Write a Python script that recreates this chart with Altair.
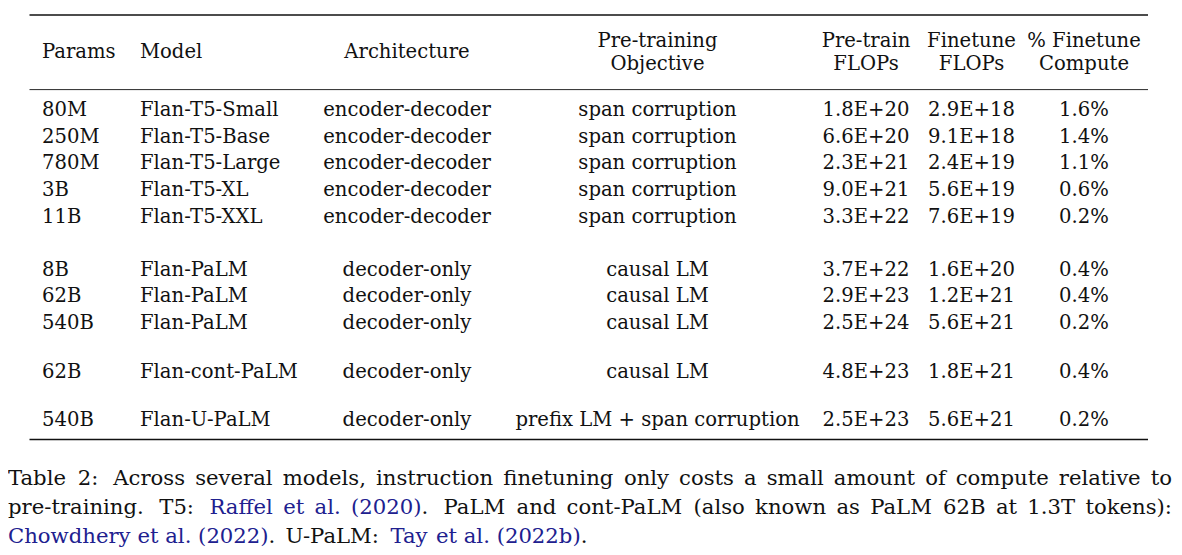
import altair as alt
import pandas as pd

# ---------------- data (table contents) ----------------
params = ["80M", "250M", "780M", "3B", "11B", "8B", "62B", "540B", "62B", "540B"]
models = ["Flan-T5-Small", "Flan-T5-Base", "Flan-T5-Large", "Flan-T5-XL", "Flan-T5-XXL",
          "Flan-PaLM", "Flan-PaLM", "Flan-PaLM", "Flan-cont-PaLM", "Flan-U-PaLM"]
architectures = ["encoder-decoder"] * 5 + ["decoder-only"] * 5
objectives = ["span corruption"] * 5 + ["causal LM"] * 4 + ["prefix LM + span corruption"]
pretrain_flops = ["1.8E+20", "6.6E+20", "2.3E+21", "9.0E+21", "3.3E+22",
                  "3.7E+22", "2.9E+23", "2.5E+24", "4.8E+23", "2.5E+23"]
finetune_flops = ["2.9E+18", "9.1E+18", "2.4E+19", "5.6E+19", "7.6E+19",
                  "1.6E+20", "1.2E+21", "5.6E+21", "1.8E+21", "5.6E+21"]
finetune_pct = ["1.6%", "1.4%", "1.1%", "0.6%", "0.2%", "0.4%", "0.4%", "0.2%", "0.4%", "0.2%"]

header_line1 = ["Params", "Model", "Architecture", "Pre-training", "Pre-train", "Finetune", "% Finetune"]
header_line2 = ["", "", "", "Objective", "FLOPs", "FLOPs", "Compute"]

# caption lines; [ ... ] marks a citation link (drawn in blue)
caption_lines = [
    "Table 2: Across several models, instruction finetuning only costs a small amount of compute relative to",
    "pre-training. T5: [Raffel et al. (2020)]. PaLM and cont-PaLM (also known as PaLM 62B at 1.3T tokens):",
    "[Chowdhery et al. (2022)]. U-PaLM: [Tay et al. (2022b)].",
]
caption_justified = [True, True, False]

# ---------------- layout (page coordinates of the reference) ----------------
col_x = [42, 140, 407, 657.5, 866, 971.5, 1084]
col_align = ["left", "left", "center", "center", "center", "center", "center"]
row_baseline = [115.7, 142.5, 169.3, 196, 223, 275.5, 302.3, 329, 377.5, 426]
header_single_y = 58.3
header_two_y = [47, 70]
rule_y = [15, 89.6, 439.6]
rule_w = [1.5, 0.9, 1.5]
rule_x = (29.5, 1148)
caption_baseline = [485, 514, 542.5]
caption_left, caption_right = 8, 1172
CAP_SIZE = 21.2
TAB_SIZE = 19.6

TEXT = "#111111"
LINK = "#20208f"
FONT = "DejaVu Serif"

# approximate DejaVu Serif advance widths (em) used to lay out the justified caption
_W = {" ": .318, ".": .318, ",": .318, ":": .337, "(": .390, ")": .390, "-": .338, "%": .950, "+": .838,
      "A": .722, "B": .735, "C": .765, "D": .802, "E": .730, "F": .694, "G": .799, "H": .872,
      "I": .395, "J": .401, "K": .747, "L": .664, "M": 1.024, "N": .875, "O": .820, "P": .673,
      "Q": .820, "R": .753, "S": .685, "T": .667, "U": .843, "V": .722, "W": 1.028, "X": .712,
      "Y": .660, "Z": .695,
      "a": .596, "b": .640, "c": .560, "d": .640, "e": .592, "f": .370, "g": .640, "h": .644,
      "i": .320, "j": .310, "k": .606, "l": .320, "m": .948, "n": .644, "o": .602, "p": .640,
      "q": .640, "r": .478, "s": .513, "t": .402, "u": .644, "v": .565, "w": .856, "x": .564,
      "y": .565, "z": .527}


def text_width(s, size):
    return sum(_W.get(ch, .636) for ch in s) * size


def parse_words(line):
    """split a caption line into words; each word is a list of (text, is_link) pieces"""
    words, pieces, buf, link = [], [], "", False
    for ch in line + " ":
        if ch in "[]":
            if buf:
                pieces.append((buf, link))
                buf = ""
            link = ch == "["
        elif ch == " ":
            if buf:
                pieces.append((buf, link))
                buf = ""
            if pieces:
                words.append(pieces)
                pieces = []
        else:
            buf += ch
    return words


cap_rows = []
for li, line in enumerate(caption_lines):
    words = parse_words(line)
    widths = [sum(text_width(t, CAP_SIZE) for t, _ in w) for w in words]
    weights = []
    for w in words[:-1]:
        last = "".join(t for t, _ in w)
        weights.append(1.5 if (last.endswith((".", ":")) and last != "al.") else 1.0)
    natural_space = text_width(" ", CAP_SIZE)
    if caption_justified[li]:
        free = (caption_right - caption_left) - sum(widths)
        unit = free / sum(weights)
    else:
        unit = natural_space
    x = caption_left
    for wi, w in enumerate(words):
        px = x
        for t, link in w:
            cap_rows.append({"text": t, "x": px, "y": caption_baseline[li],
                             "color": LINK if link else TEXT})
            px += text_width(t, CAP_SIZE)
        x += widths[wi] + (unit * weights[wi] if wi < len(weights) else 0)
cap_df = pd.DataFrame(cap_rows)

# ---------------- table cells ----------------
columns = [params, models, architectures, objectives, pretrain_flops, finetune_flops, finetune_pct]
cells = []
for c, values in enumerate(columns):
    for r, v in enumerate(values):
        cells.append({"text": v, "x": col_x[c], "y": row_baseline[r], "align": col_align[c]})
for c in range(len(header_line1)):
    if header_line2[c]:
        cells.append({"text": header_line1[c], "x": col_x[c], "y": header_two_y[0], "align": "center"})
        cells.append({"text": header_line2[c], "x": col_x[c], "y": header_two_y[1], "align": "center"})
    else:
        cells.append({"text": header_line1[c], "x": col_x[c], "y": header_single_y, "align": col_align[c]})
cells_df = pd.DataFrame(cells)

rules_df = pd.DataFrame({"y": rule_y, "w": rule_w, "x": [rule_x[0]] * 3, "x2": [rule_x[1]] * 3})

W, H = 1166, 539
xs = alt.Scale(domain=[8, 8 + W], range=[0, W], zero=False, nice=False)
ys = alt.Scale(domain=[8, 8 + H], range=[0, H], zero=False, nice=False)


def X(f):
    return alt.X(f, type="quantitative", scale=xs, axis=None)


def Y(f):
    return alt.Y(f, type="quantitative", scale=ys, axis=None)


rules = alt.Chart(rules_df).mark_rule(color="#111111").encode(
    x=X("x"), x2=alt.X2("x2"), y=Y("y"),
    strokeWidth=alt.StrokeWidth("w:Q", scale=None),
)

left_txt = alt.Chart(cells_df).transform_filter(alt.datum.align == "left").mark_text(
    align="left", baseline="alphabetic", font=FONT, fontSize=TAB_SIZE, color=TEXT
).encode(x=X("x"), y=Y("y"), text="text:N")

center_txt = alt.Chart(cells_df).transform_filter(alt.datum.align == "center").mark_text(
    align="center", baseline="alphabetic", font=FONT, fontSize=TAB_SIZE, color=TEXT
).encode(x=X("x"), y=Y("y"), text="text:N")

caption = alt.Chart(cap_df).mark_text(
    align="left", baseline="alphabetic", font=FONT, fontSize=CAP_SIZE
).encode(x=X("x"), y=Y("y"), text="text:N", color=alt.Color("color:N", scale=None))

chart = alt.layer(rules, left_txt, center_txt, caption).properties(
    width=W, height=H, padding=0, autosize=alt.AutoSizeParams(type="none"),
    background="white",
).configure_view(stroke=None)

chart.save("out.html", embed_options={"renderer": "svg", "actions": False})
